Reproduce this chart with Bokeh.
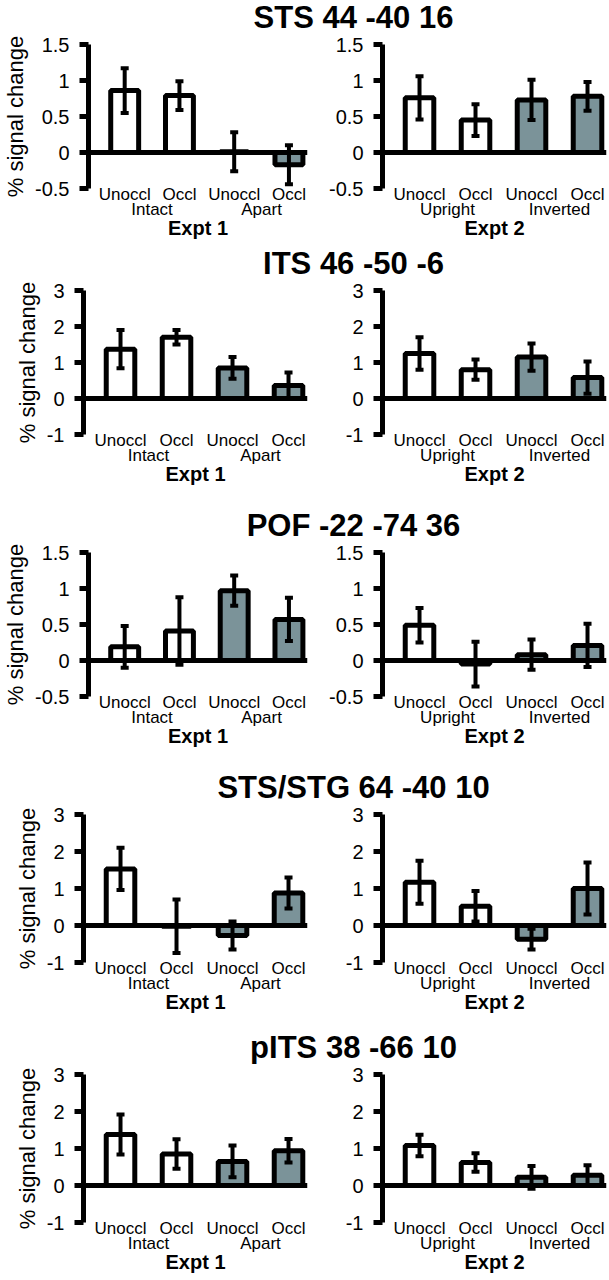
from bokeh.plotting import figure
from bokeh.layouts import column, row
from bokeh.models import (ColumnDataSource, Whisker, TeeHead, Span, FixedTicker,
                          LinearAxis, Range1d)
from bokeh.core.properties import value
from bokeh.embed import file_html
from bokeh.resources import INLINE

FONT = "Liberation Sans"
GRAY = "#7b9399"

titles = ["STS 44 -40 16", "ITS 46 -50 -6", "POF -22 -74 36",
          "STS/STG 64 -40 10", "pITS 38 -66 10"]
conditions = ["Unoccl", "Occl", "Unoccl", "Occl"]
groups_e1 = ["Intact", "Apart"]
groups_e2 = ["Upright", "Inverted"]
expt_labels = ["Expt 1", "Expt 2"]
ylabel = "% signal change"

ticks_small = [-0.5, 0, 0.5, 1, 1.5]
labels_small = ["-0.5", "0", "0.5", "1", "1.5"]
ticks_large = [-1, 0, 1, 2, 3]
labels_large = ["-1", "0", "1", "2", "3"]

# % signal change (mean) and error, per region, Expt 1 and Expt 2
sts_e1 = [0.86, 0.79, 0.01, -0.17]
sts_e1_err = [0.31, 0.20, 0.27, 0.27]
sts_e2 = [0.76, 0.45, 0.73, 0.78]
sts_e2_err = [0.30, 0.22, 0.28, 0.20]

its_e1 = [1.37, 1.70, 0.85, 0.36]
its_e1_err = [0.53, 0.20, 0.30, 0.36]
its_e2 = [1.25, 0.80, 1.15, 0.58]
its_e2_err = [0.45, 0.28, 0.38, 0.45]

pof_e1 = [0.19, 0.41, 0.97, 0.57]
pof_e1_err = [0.29, 0.47, 0.21, 0.30]
pof_e2 = [0.49, -0.05, 0.08, 0.21]
pof_e2_err = [0.24, 0.31, 0.21, 0.30]

stg_e1 = [1.53, -0.02, -0.27, 0.88]
stg_e1_err = [0.57, 0.72, 0.38, 0.42]
stg_e2 = [1.17, 0.52, -0.37, 1.00]
stg_e2_err = [0.58, 0.41, 0.28, 0.70]

pits_e1 = [1.38, 0.85, 0.65, 0.94]
pits_e1_err = [0.54, 0.40, 0.43, 0.32]
pits_e2 = [1.08, 0.62, 0.22, 0.28]
pits_e2_err = [0.29, 0.25, 0.31, 0.27]

rows_data = [
    (sts_e1, sts_e1_err, sts_e2, sts_e2_err, ticks_small, labels_small),
    (its_e1, its_e1_err, its_e2, its_e2_err, ticks_large, labels_large),
    (pof_e1, pof_e1_err, pof_e2, pof_e2_err, ticks_small, labels_small),
    (stg_e1, stg_e1_err, stg_e2, stg_e2_err, ticks_large, labels_large),
    (pits_e1, pits_e1_err, pits_e2, pits_e2_err, ticks_large, labels_large),
]

# layout sizes
block_h = [246, 262, 262, 260, 248]
frame_h = [144, 144, 144, 148, 148]
TITLE_H = 34
TITLE_C = 17
TOP = 10
XPOS = [1, 2, 3, 4]
GPOS = [1.5, 3.5]
fills = ["white", "white", GRAY, GRAY]


def panel(vals, errs, groups, expt, ticks, labels, width, mb_left, mb_right,
          height, fh, with_label):
    bottom = height - TOP - fh
    p = figure(width=width, height=height,
               x_range=Range1d(0.339, 4.339),
               y_range=Range1d(ticks[0], ticks[-1]),
               toolbar_location=None, output_backend="svg",
               min_border_left=mb_left, min_border_right=mb_right,
               min_border_top=TOP, min_border_bottom=bottom)
    p.xgrid.visible = False
    p.ygrid.visible = False
    p.outline_line_color = None
    p.background_fill_color = "white"
    p.border_fill_color = "white"

    ya = p.yaxis[0]
    ya.ticker = FixedTicker(ticks=ticks)
    ya.major_label_overrides = {t: l for t, l in zip(ticks, labels)}
    ya.axis_line_width = 5
    ya.axis_line_color = "black"
    ya.major_tick_line_width = 5
    ya.major_tick_line_color = "black"
    ya.major_tick_out = 9
    ya.major_tick_in = 0
    ya.minor_tick_line_color = None
    ya.major_label_text_font = FONT
    ya.major_label_text_font_size = "20px"
    ya.major_label_text_color = "black"
    ya.major_label_standoff = 10
    if with_label:
        ya.axis_label = ylabel
        ya.axis_label_text_font = FONT
        ya.axis_label_text_font_size = "22px"
        ya.axis_label_text_font_style = "normal"
        ya.axis_label_text_color = "black"
        ya.axis_label_standoff = 4

    xa = p.xaxis[0]
    xa.ticker = FixedTicker(ticks=XPOS)
    xa.major_label_overrides = {x: c for x, c in zip(XPOS, conditions)}
    xa.axis_line_color = None
    xa.major_tick_line_color = None
    xa.major_tick_out = 0
    xa.major_tick_in = 0
    xa.minor_tick_line_color = None
    xa.major_label_text_font = FONT
    xa.major_label_text_font_size = "17px"
    xa.major_label_text_color = "black"
    xa.major_label_standoff = -4

    ga = LinearAxis(ticker=FixedTicker(ticks=GPOS),
                    major_label_overrides={g: s for g, s in zip(GPOS, groups)},
                    axis_line_color=None, major_tick_line_color=None,
                    major_tick_out=0, major_tick_in=0,
                    minor_tick_line_color=None,
                    major_label_text_font=FONT,
                    major_label_text_font_size="17px",
                    major_label_text_color="black",
                    major_label_standoff=-7,
                    axis_label=expt,
                    axis_label_text_font=FONT,
                    axis_label_text_font_size="20px",
                    axis_label_text_font_style="bold",
                    axis_label_text_color="black",
                    axis_label_standoff=-5)
    p.add_layout(ga, "below")

    src = ColumnDataSource(dict(
        x=XPOS, top=vals,
        upper=[v + e for v, e in zip(vals, errs)],
        lower=[v - e for v, e in zip(vals, errs)],
        fill=fills))
    p.vbar(x="x", top="top", bottom=0, width=0.51, fill_color="fill",
           line_color="black", line_width=5, source=src)
    p.add_layout(Span(location=0, dimension="width", line_color="black",
                      line_width=5, level="overlay"))
    p.add_layout(Whisker(base="x", upper="upper", lower="lower", source=src,
                         line_color="black", line_width=4, level="overlay",
                         upper_head=TeeHead(size=8, line_width=4, line_color="black"),
                         lower_head=TeeHead(size=8, line_width=4, line_color="black")))
    return p


blocks = []
for i, (e1, e1e, e2, e2e, ticks, labels) in enumerate(rows_data):
    tp = figure(width=608, height=TITLE_H, x_range=Range1d(0, 608),
                y_range=Range1d(0, TITLE_H), toolbar_location=None,
                output_backend="svg", min_border=0,
                x_axis_location=None, y_axis_location=None)
    tp.xgrid.visible = False
    tp.ygrid.visible = False
    tp.outline_line_color = None
    tp.text(x=[353], y=[TITLE_H - TITLE_C], text=[titles[i]],
            text_font=value(FONT), text_font_size="31px",
            text_font_style="bold", text_color="black",
            text_align="center", text_baseline="middle")
    ph = block_h[i] - TITLE_H
    pl = panel(e1, e1e, groups_e1, expt_labels[0], ticks, labels,
               310, 83, 3, ph, frame_h[i], True)
    pr = panel(e2, e2e, groups_e2, expt_labels[1], ticks, labels,
               298, 72, 2, ph, frame_h[i], False)
    blocks.append(column(tp, row(pl, pr, spacing=0), spacing=0))

layout = column(*blocks, spacing=0)
open("out.html", "w").write(file_html(layout, INLINE))
